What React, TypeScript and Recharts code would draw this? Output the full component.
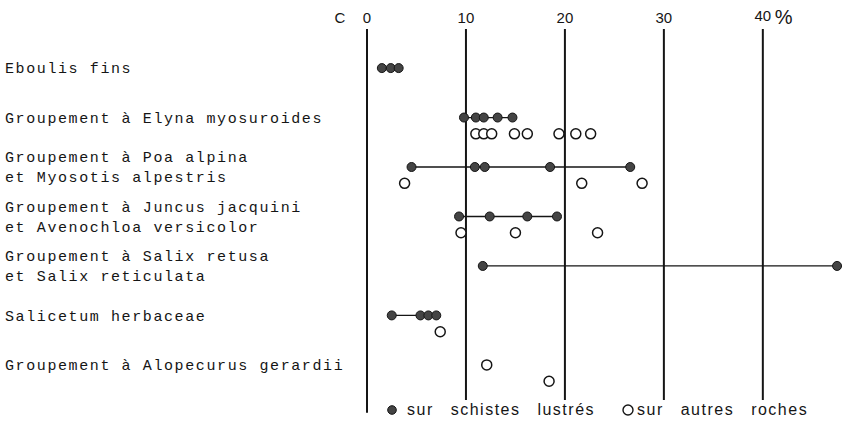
import { ReferenceLine, Scatter, ScatterChart, XAxis, YAxis } from "recharts"

const rowLabels = [
  "Eboulis fins",
  "Groupement à Elyna myosuroides",
  "Groupement à Poa alpina\net Myosotis alpestris",
  "Groupement à Juncus jacquini\net Avenochloa versicolor",
  "Groupement à Salix retusa\net Salix reticulata",
  "Salicetum herbaceae",
  "Groupement à Alopecurus gerardii",
]

// % values per row, sur schistes lustrés (filled dots)
const schistes: number[][] = [
  [1.5, 2.4, 3.2],
  [9.8, 11.0, 11.8, 13.2, 14.7],
  [4.5, 10.9, 11.9, 18.5, 26.6],
  [9.3, 12.4, 16.2, 19.2],
  [11.7, 47.5],
  [2.5, 5.4, 6.2, 7.0],
  [],
]

// % values per row, sur autres roches (open circles)
const autres: number[][] = [
  [],
  [11.0, 11.8, 12.6, 14.9, 16.2, 19.4, 21.1, 22.6],
  [3.8, 21.7, 27.8],
  [9.5, 15.0, 23.3],
  [],
  [7.4],
  [12.1, 18.4],
]

const xTicks = [0, 10, 20, 30, 40]

const LANE = 0.33
const Y_DOMAIN: [number, number] = [-0.79, 6.71]
const LABEL_X = 5

const filledRows = schistes.map((vals, row) =>
  vals.map((v) => ({ x: v, y: row }))
)

// rows without filled dots stagger their open circles
const openPoints = autres.flatMap((vals, row) =>
  vals.map((v, i) => ({
    x: v,
    y: row + (schistes[row].length ? LANE : (i % 2) * LANE),
  }))
)

const ink = "#151515"

function FilledDot(props: any) {
  const { cx, cy } = props
  return <circle cx={cx} cy={cy} r={4.5} fill="#444" stroke={ink} strokeWidth={1} />
}

function OpenDot(props: any) {
  const { cx, cy } = props
  return <circle cx={cx} cy={cy} r={5} fill="#fff" stroke={ink} strokeWidth={1.5} />
}

function TopTick(props: any) {
  const { x, payload } = props
  const v = payload.value
  return (
    <g fontFamily="'Liberation Sans', Arial, sans-serif" fill={ink}>
      {v === 0 && (
        <text x={x - 27} y={23} textAnchor="middle" fontSize={15}>
          C
        </text>
      )}
      <text x={x} y={v === 40 ? 21 : 23} textAnchor="middle" fontSize={15}>
        {v}
      </text>
      {v === 40 && (
        <text x={x + 12} y={24} fontSize={20}>
          %
        </text>
      )}
    </g>
  )
}

function RowTick(props: any) {
  const { y, payload } = props
  const lines = rowLabels[payload.value].split("\n")
  const lh = 20
  const y0 = y - ((lines.length - 1) * lh) / 2
  return (
    <text
      x={LABEL_X}
      y={y0}
      fontFamily="'Liberation Mono', 'Courier New', monospace"
      fontSize={15}
      letterSpacing={1.6}
      fill={ink}
      textAnchor="start"
    >
      {lines.map((l, i) => (
        <tspan key={i} x={LABEL_X} y={y0 + i * lh} dy="0.35em">
          {l}
        </tspan>
      ))}
    </text>
  )
}

export default function App() {
  return (
    <div
      style={{
        position: "absolute",
        left: 0,
        top: 0,
        width: 843,
        height: 423,
        background: "#fff",
      }}
    >
      <ScatterChart
        width={843}
        height={423}
        margin={{ top: 0, right: 1, bottom: 23, left: 0 }}
      >
        <XAxis
          type="number"
          dataKey="x"
          orientation="top"
          domain={[0, 48]}
          ticks={xTicks}
          axisLine={false}
          tickLine={false}
          height={29}
          tick={<TopTick />}
          allowDataOverflow
        />
        <YAxis
          type="number"
          dataKey="y"
          domain={Y_DOMAIN}
          reversed
          ticks={rowLabels.map((_, i) => i)}
          interval={0}
          axisLine={false}
          tickLine={false}
          width={367}
          tick={<RowTick />}
          allowDataOverflow
        />
        {xTicks.map((t) =>
          t === 0 ? (
            <ReferenceLine
              key={t}
              segment={[
                { x: 0, y: Y_DOMAIN[0] },
                { x: 0, y: 6.97 },
              ]}
              stroke={ink}
              strokeWidth={2}
              ifOverflow="visible"
            />
          ) : (
            <ReferenceLine key={t} x={t} stroke={ink} strokeWidth={2} />
          )
        )}
        {filledRows.map((pts, i) =>
          pts.length ? (
            <Scatter
              key={i}
              data={pts}
              line={{ stroke: ink, strokeWidth: 1.3 }}
              shape={<FilledDot />}
              isAnimationActive={false}
            />
          ) : null
        )}
        <Scatter data={openPoints} shape={<OpenDot />} isAnimationActive={false} />
      </ScatterChart>
      <div
        style={{
          position: "absolute",
          left: 387,
          top: 401,
          display: "flex",
          alignItems: "center",
          fontFamily: "'Liberation Sans', Arial, sans-serif",
          fontSize: 16,
          lineHeight: "18px",
          letterSpacing: 1.5,
          wordSpacing: 11,
          color: ink,
          whiteSpace: "nowrap",
        }}
      >
        <svg width={10} height={10} style={{ marginRight: 10 }}>
          <circle cx={5} cy={5} r={4.3} fill="#444" stroke={ink} strokeWidth={1} />
        </svg>
        <span>sur schistes lustrés</span>
        <svg width={12} height={12} style={{ marginLeft: 27, marginRight: 3 }}>
          <circle cx={6} cy={6} r={5} fill="#fff" stroke={ink} strokeWidth={1.4} />
        </svg>
        <span>sur autres roches</span>
      </div>
    </div>
  )
}
